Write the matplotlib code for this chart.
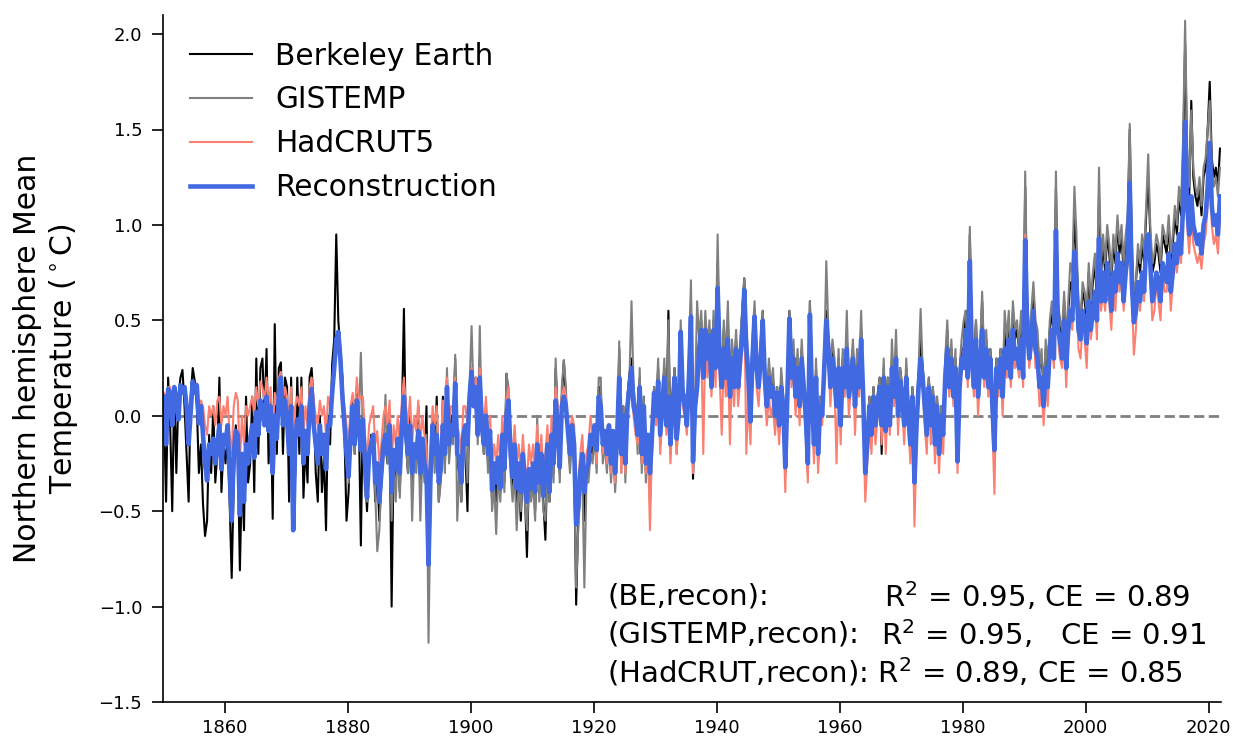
import numpy as np
import matplotlib
matplotlib.use("Agg")
import matplotlib.pyplot as plt

# Northern hemisphere mean temperature anomalies (hundredths of a degree C),
# three samples per year, one string per decade.
recon_decades = [
    "10 -15 14 12 -5 15 8 -2 16 12 15 5 -15 2 18 12 16 -4 5 -10 -25 -34 -15 -20 -12 -25 -15 -5 -28 -10",
    "-15 -5 -30 -55 -20 -8 -10 -52 -20 -45 -15 -25 -12 -5 -22 2 -10 8 5 -5 10 -8 5 -30 0 -12 12 20 -5 8",
    "-2 -20 5 -60 -12 -2 -10 5 -25 -8 -20 5 14 -5 -15 -25 -5 -20 -10 -28 -5 -5 12 25 40 44 30 10 -5 -20",
    "-32 -10 5 -15 8 -5 -18 -2 -25 -43 -20 -15 -10 -35 -25 -45 -30 -15 -10 -20 -5 -40 -18 -28 -12 -30 -5 10 -10 -20",
    "-5 -30 -15 -22 -8 -30 -12 -25 -30 -78 -30 -5 -20 -10 -35 -28 -5 -20 15 -15 -5 -10 17 -20 -22 -35 -10 -5 -15 10",
    "23 5 15 -10 20 -5 -15 0 -20 -8 -39 -25 -35 -22 -38 -10 -28 0 8 -20 -32 -15 -38 -25 -40 -20 -35 -45 -28 -38",
    "-25 -40 -15 -35 -20 -42 -30 -15 -40 -10 -25 8 -5 -27 5 10 5 -8 -20 -5 -15 -57 -48 -30 -20 -40 -28 -25 -10 -15",
    "-5 -18 10 5 -15 -8 -20 -5 -25 -8 -30 -10 20 -20 0 -25 5 15 25 5 0 -10 15 -20 5 -25 -10 -30 -10 12",
    "0 18 -10 5 20 -5 10 -15 5 20 -12 0 44 10 5 -5 20 52 -24 5 15 35 45 20 45 30 42 15 45 25",
    "67 30 15 35 20 40 10 30 15 35 15 30 40 66 35 20 -3 30 52 25 15 30 50 20 5 20 10 15 0 12",
    "-5 15 5 -27 10 51 20 30 10 25 5 30 15 0 -25 53 10 -15 20 -20 5 0 25 50 35 15 30 20 5 25",
    "-5 25 15 35 10 20 30 5 25 15 40 10 -30 -15 5 -10 10 -5 5 15 -5 20 -8 15 -5 25 10 30 0 18",
    "10 -5 20 0 -15 10 -35 -5 15 30 20 5 -10 15 -5 10 -15 5 -20 0 -10 20 35 15 30 10 25 -24 15 30",
    "25 45 20 81 30 15 40 10 25 45 20 35 15 30 5 -18 25 15 30 10 35 25 40 20 45 30 35 25 40 20",
    "92 45 30 40 55 35 30 15 20 5 25 15 35 45 30 97 45 40 30 50 25 45 55 50 86 70 45 40 55 50",
    "38 60 45 55 65 50 93 60 75 60 80 70 55 75 65 85 70 80 60 75 85 122 70 49 55 70 60 75 65 90",
    "95 80 60 65 75 70 60 80 75 70 85 65 75 90 80 95 85 110 154 110 95 115 100 95 90 95 85 100 105 120",
    "143 110 100 105 95 115",
]

berkeley_decades = [
    "0 -45 20 -5 -50 15 -30 10 20 24 5 -20 -45 10 25 18 5 -30 -15 -46 -63 -55 -10 -30 5 -35 -20 20 -40 -15",
    "-25 -10 -45 -85 -35 -5 -20 -81 -30 -60 10 -35 -25 10 -40 30 -20 25 30 0 35 -25 10 -54 48 -20 25 28 -20 20",
    "15 -45 20 -55 -30 20 -20 20 -43 -15 -35 20 25 5 -30 -45 0 -40 -20 -60 0 -15 27 40 95 50 35 20 -10 -55",
    "-40 -5 10 -20 15 0 -68 5 -30 -50 -25 -10 -15 -45 -30 -55 -35 -20 -15 -25 0 -100 -20 -35 -15 -40 0 56 -15 -30",
    "0 -35 -20 -25 5 -40 -15 -30 5 -80 -35 0 -25 10 -45 -30 10 -25 20 -20 0 -10 30 -25 -30 -45 -15 -20 -50 15",
    "25 10 20 -10 30 -5 -20 5 -25 -10 -45 -30 -45 -25 -40 -15 -35 22 10 -25 -40 -20 -45 -30 -55 -25 -40 -74 -30 -40",
    "-30 -50 -10 -40 -25 -45 -65 -20 -45 -15 -30 25 0 -30 10 29 10 -10 -25 -10 -20 -99 -55 -35 -25 -55 -30 -30 -15 -20",
    "-10 -25 15 15 -20 -10 -25 -10 -30 -10 -35 -15 35 -25 5 -30 10 22 30 10 5 -15 20 -25 10 -30 -15 -35 -15 15",
    "5 25 -15 10 25 -5 55 -20 10 25 -15 5 45 15 10 0 25 60 -33 10 20 40 50 25 50 35 45 20 50 30",
    "80 35 20 45 25 50 15 35 20 40 20 35 55 72 40 25 0 35 55 30 20 35 55 20 10 25 15 20 -5 15",
    "-10 20 5 -30 15 55 25 35 10 30 5 35 15 0 -30 60 15 -10 25 -25 10 5 30 55 40 20 35 25 5 30",
    "-5 30 20 40 15 25 35 10 30 20 45 15 -30 -10 10 -5 15 0 10 20 -20 25 -5 20 0 30 15 35 5 25",
    "15 0 25 5 -10 15 -30 0 20 40 25 10 -5 20 0 15 -10 10 -15 5 -5 25 45 20 35 15 30 -20 20 35",
    "35 55 25 95 40 25 50 15 30 60 25 40 20 35 10 -10 30 20 35 15 45 35 50 25 55 40 45 35 50 30",
    "120 55 40 50 65 45 40 25 30 15 35 25 45 55 40 120 55 50 40 60 35 55 70 65 105 85 55 50 65 60",
    "50 75 55 70 80 60 115 75 90 75 95 85 70 90 80 100 85 95 75 90 100 150 85 60 70 85 75 90 80 105",
    "125 95 75 80 90 85 75 95 90 85 100 80 90 105 95 115 105 135 195 135 115 165 125 115 110 120 105 125 130 150",
    "175 135 125 130 120 140",
]

# GISTEMP begins in 1880
gistemp_decades = [
    "-35 -15 5 -20 10 -5 33 -5 -40 -45 -25 -15 -15 -40 -71 -60 -35 -20 11 -25 -5 -55 -25 -45 -15 -43 -5 17 -15 -30",
    "-5 -55 -20 -30 -5 -55 -20 -35 -10 -119 -40 -5 -30 -5 -45 -35 5 -30 25 -25 -10 -15 32 -55 -30 -45 -20 -15 -35 15",
    "47 10 20 -15 47 -10 -20 0 -30 -15 -50 -35 -62 -30 -45 -20 -40 22 15 -30 -45 -30 -60 -35 -50 -30 -45 -60 -35 -45",
    "-35 -55 0 -45 -30 -50 -55 -25 -45 -20 -35 30 0 -35 15 29 15 -15 -30 -10 -25 -90 -60 -40 -30 -90 -35 -35 -20 -25",
    "-10 -30 20 20 -25 -15 -30 -10 -35 -15 -40 -20 39 -30 5 -35 10 20 60 15 5 -20 25 -30 10 -35 -15 -45 -20 15",
    "5 30 -15 10 30 -5 50 -20 10 25 -20 5 50 15 10 0 30 71 -30 10 60 40 55 25 55 35 50 20 55 30",
    "95 40 20 50 30 60 15 40 25 45 20 40 55 72 45 30 5 40 60 35 20 40 55 25 10 30 15 25 0 15",
    "-5 25 10 -25 15 55 30 40 15 35 10 40 20 5 -25 60 15 -10 30 -20 10 5 30 81 45 25 40 30 10 35",
    "0 35 20 55 15 25 40 10 35 25 55 15 -25 -10 10 -5 15 0 10 20 -5 30 -5 20 0 40 15 45 5 25",
    "15 0 30 5 -10 15 -30 0 25 56 25 10 -5 20 0 15 -10 10 -15 5 -5 30 50 20 40 15 35 -20 25 40",
    "50 55 30 99 40 25 50 15 35 65 30 45 20 35 10 -15 30 20 35 15 55 40 55 25 60 45 50 35 55 35",
    "128 60 40 55 70 50 45 25 35 10 40 25 50 60 45 128 60 50 45 65 40 60 80 75 120 95 55 50 70 65",
    "55 80 60 75 85 65 130 80 95 80 100 90 75 95 85 105 90 100 80 95 105 153 90 65 70 90 80 95 85 110",
    "137 100 80 85 95 90 80 100 95 90 105 85 95 110 100 120 110 145 207 140 120 160 130 120 115 125 110 130 135 150",
    "165 130 120 125 115 130",
]

hadcrut_decades = [
    "12 5 15 15 5 12 10 8 15 15 13 8 -5 8 17 15 17 5 8 5 -5 -10 5 0 5 -5 8 10 -5 5",
    "0 10 -10 -20 5 12 8 -25 0 -15 5 0 5 10 0 15 5 18 15 8 20 5 15 -10 12 5 20 23 8 15",
    "10 -5 15 -30 5 10 5 15 -10 5 -5 15 20 8 0 -5 8 0 5 -10 10 5 18 25 38 42 28 15 5 -5",
    "-15 5 12 0 20 8 10 10 -10 -25 -5 0 5 -15 -8 -25 -15 0 5 -5 8 -25 -5 -15 0 -15 8 20 5 -5",
    "10 -15 0 -8 8 -15 0 -10 -15 -50 -15 5 -5 5 -20 -15 8 -5 20 -5 5 5 20 -5 -10 -20 5 5 -5 15",
    "25 10 20 -5 25 5 -5 10 -10 0 -25 -15 -25 -10 -25 0 -15 8 15 -10 -20 -5 -25 -15 -30 -10 -25 -35 -15 -25",
    "-15 -30 -5 -25 -10 -30 -20 -5 -30 0 -15 15 5 -20 10 15 10 -5 -10 0 -5 -40 -35 -20 -10 -30 -20 -15 0 -10",
    "-10 -25 5 10 -20 -15 -25 -10 -30 -15 -35 -15 15 -30 -5 -30 0 10 20 0 -10 -15 10 -25 0 -30 -15 -60 -15 5",
    "-5 15 -20 0 15 -10 5 -25 0 15 -20 -5 35 5 0 -10 15 45 -30 0 10 30 40 -20 40 20 35 10 40 15",
    "60 20 -10 30 10 35 -15 25 5 30 5 20 35 60 -20 10 -15 20 45 15 5 25 45 10 -5 10 0 5 -10 5",
    "-15 10 -5 -40 5 45 15 25 0 20 -5 25 5 -10 -35 45 0 -25 15 -30 0 -5 20 45 30 5 25 15 -25 20",
    "-15 20 10 30 0 15 25 -10 20 10 35 0 -45 -25 0 -20 5 -15 0 10 -15 15 -20 10 -10 20 5 25 -10 15",
    "5 -15 15 -5 -25 5 -58 -15 10 25 15 -5 -20 10 -15 5 -25 0 -30 -5 -20 15 30 10 25 5 20 -30 10 25",
    "35 40 15 75 25 10 35 0 20 40 15 30 10 25 -5 -41 20 10 25 0 30 20 35 15 40 25 30 20 35 15",
    "95 40 25 35 50 25 25 5 15 -5 20 5 30 40 25 90 40 30 25 45 15 40 50 45 85 65 35 30 50 40",
    "25 55 40 50 60 40 90 55 65 55 75 60 45 70 55 80 65 75 55 70 80 115 65 32 45 65 55 70 60 85",
    "90 75 50 55 70 60 50 75 65 65 80 55 70 85 75 90 80 110 140 100 85 105 90 85 80 85 77 90 95 110",
    "135 100 90 95 85 105",
]

series_labels = ["Berkeley Earth", "GISTEMP", "HadCRUT5", "Reconstruction"]
series_start = [1850, 1880, 1850, 1850]
stats_labels = ["(BE,recon):", "(GISTEMP,recon):", ""]
stats_values = ["R$^2$ = 0.95, CE = 0.89", "R$^2$ = 0.95,   CE = 0.91",
                "(HadCRUT,recon): R$^2$ = 0.89, CE = 0.85"]
x_ticks = [1860, 1880, 1900, 1920, 1940, 1960, 1980, 2000, 2020]
y_ticks = [-1.5, -1.0, -0.5, 0.0, 0.5, 1.0, 1.5, 2.0]


def to_series(decades, start):
    vals = np.array(" ".join(decades).split(), dtype=float) / 100.0
    t = start + (np.arange(vals.size) + 0.5) / 3.0
    return t, vals


data = [to_series(d, s) for d, s in zip(
    [berkeley_decades, gistemp_decades, hadcrut_decades, recon_decades], series_start)]

colors = ["black", "gray", "salmon", "royalblue"]
widths = [1.5, 1.5, 1.5, 3.3]

W, H = 1238, 745
fig = plt.figure(figsize=(W / 100, H / 100), dpi=100)
ax = fig.add_axes([163 / W, 43 / H, 1058 / W, 687 / H])

ax.axhline(0.0, color="gray", ls="--", lw=2, zorder=1)
for (t, v), lab, c, w in zip(data, series_labels, colors, widths):
    ax.plot(t, v, color=c, lw=w, label=lab, zorder=2)

ax.set_xlim(1850, 2022)
ax.set_ylim(-1.5, 2.1)
ax.set_xticks(x_ticks)
ax.set_yticks(y_ticks)
ax.tick_params(labelsize=13, length=8, width=1.2, pad=4)
ax.tick_params(axis="y", pad=7)
for side in ["top", "right"]:
    ax.spines[side].set_visible(False)
for side in ["left", "bottom"]:
    ax.spines[side].set_linewidth(1.2)

ax.set_ylabel("Northern hemisphere Mean\nTemperature ($^\\circ$C)", fontsize=21.5)
ax.yaxis.set_label_coords(-83 / 1058, 0.5)

ax.legend(loc="upper left", frameon=False, fontsize=21.3, handlelength=2.1)

row_y = [597, 635, 672]
val_x = [884, 881, 607]
for lab, val, x, y in zip(stats_labels, stats_values, val_x, row_y):
    if lab:
        fig.text(607 / W, 1 - y / H, lab, fontsize=21, va="center", ha="left")
    fig.text(x / W, 1 - y / H, val, fontsize=21, va="center", ha="left")

fig.savefig("out.png", dpi=100)
